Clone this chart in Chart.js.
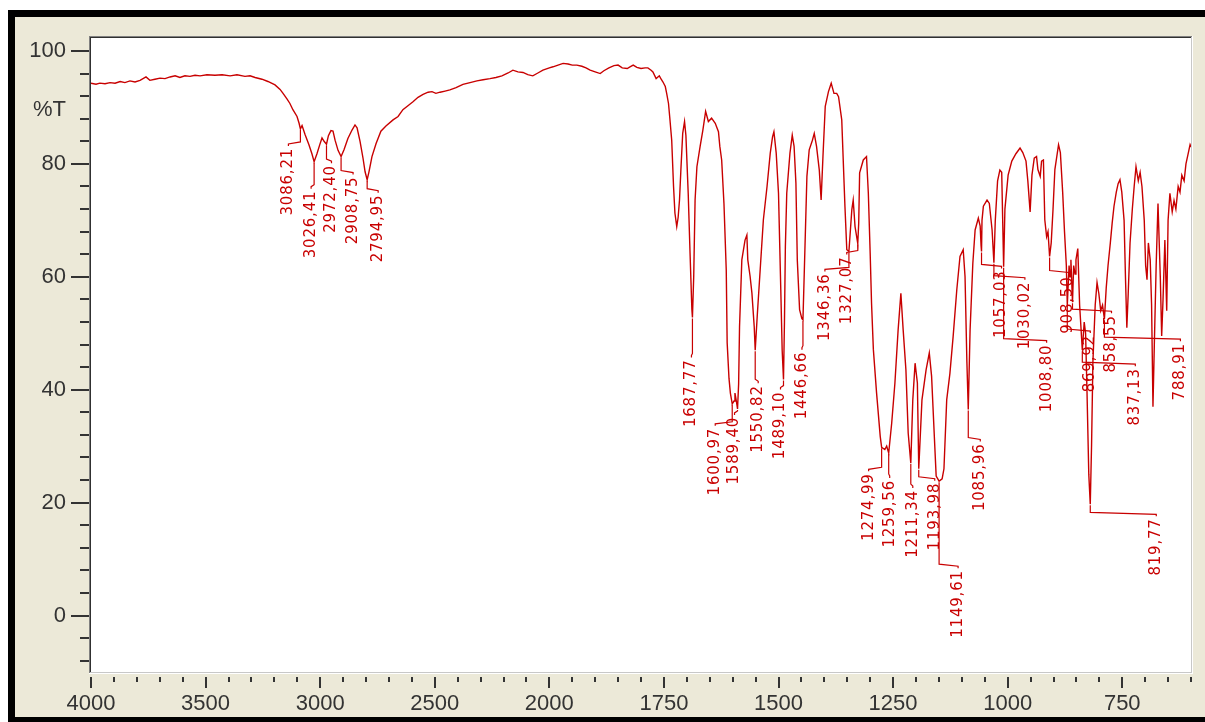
<!DOCTYPE html>
<html>
<head>
<meta charset="utf-8">
<title>IR spectrum</title>
<script src="https://cdn.jsdelivr.net/npm/chart.js@4.4.1/dist/chart.umd.min.js"></script>
<style>
  html, body { margin: 0; padding: 0; background: #ffffff; }
  canvas { display: block; }
</style>
</head>
<body>
<canvas id="spectrum" width="1205" height="722"></canvas>
<script>
// Spectrum: wavenumber (cm-1) and transmittance (%T)
const wavenumbers = [
  4000, 3978, 3961, 3939, 3917, 3895, 3873, 3852, 3830, 3808, 3786, 3760, 3743, 3721, 3699, 3677,
  3655, 3633, 3612, 3590, 3568, 3546, 3524, 3494, 3459, 3428, 3393, 3363, 3328, 3306, 3284, 3254,
  3228, 3197, 3175, 3162, 3145, 3132, 3119, 3101, 3092, 3086.21, 3079, 3066, 3049, 3036, 3026.41,
  3014, 3001, 2992, 2983, 2972.40, 2964, 2953, 2944, 2935, 2922, 2908.75, 2896, 2879, 2861, 2848,
  2839, 2826, 2813, 2804, 2794.95, 2787, 2774, 2756, 2735, 2713, 2682, 2660, 2639, 2617, 2595, 2573,
  2551, 2529, 2512, 2495, 2477, 2455, 2434, 2407, 2377, 2346, 2316, 2289, 2259, 2233, 2207, 2180,
  2159, 2137, 2115, 2094, 2072, 2050, 2028, 2000,
  1992, 1981, 1970, 1959, 1950, 1940, 1929, 1920, 1911, 1900, 1889, 1881, 1870, 1859, 1850, 1841,
  1830, 1824, 1817, 1809, 1800, 1791, 1785, 1778, 1774, 1767, 1760, 1756, 1752, 1747, 1744, 1740,
  1737, 1733, 1729, 1726, 1722, 1719, 1716, 1713, 1709, 1705, 1702, 1697, 1693, 1689, 1687.77, 1685,
  1682, 1678, 1671, 1665, 1659, 1653, 1646, 1638, 1631, 1628, 1624, 1619, 1614, 1612, 1608, 1605,
  1600.97, 1597, 1595, 1592, 1589.40, 1587, 1585, 1580, 1573, 1569, 1567, 1562, 1558, 1553, 1550.82,
  1546, 1540, 1533, 1525, 1518, 1513, 1510, 1505, 1500, 1495, 1492, 1489.10, 1487, 1485, 1482, 1475,
  1470, 1466, 1462, 1459, 1454, 1449, 1446.66, 1444, 1438, 1433, 1426, 1422, 1417, 1411, 1407, 1403,
  1398, 1391, 1385, 1379, 1373, 1369, 1362, 1355, 1351, 1346.36, 1340, 1337, 1333, 1327.07, 1325,
  1323, 1315, 1308, 1304, 1300, 1297, 1293, 1286, 1278, 1274.99, 1268, 1264, 1259.56, 1253, 1246,
  1239, 1233, 1228, 1222, 1217, 1211.34, 1207, 1202, 1197, 1193.98, 1187, 1178, 1171, 1166, 1160,
  1156, 1149.61, 1143, 1139, 1133, 1126, 1119, 1111, 1104, 1097, 1093, 1089, 1085.96, 1082, 1076,
  1071, 1064, 1060, 1058, 1057.03, 1056, 1053, 1045, 1040, 1034, 1030.02, 1027, 1022, 1017, 1013,
  1008.80, 1006, 999, 991, 982, 973, 967, 960, 956, 951, 947, 942, 937, 934, 929, 926, 922, 919,
  915, 912, 908.50, 905, 901, 897, 889, 885, 880, 876, 872, 869.92, 866, 864, 862, 858.55, 856, 853,
  851, 847, 843, 837.13, 833, 830, 827, 823, 819.77, 817, 814, 809, 805, 801, 797, 793, 788.91, 785,
  781, 776, 772, 768, 763, 759, 755, 751, 746, 743, 740, 737, 733, 728, 724, 720, 715, 711, 707, 702,
  699, 696, 693, 689, 686, 683, 680, 676, 672, 667, 664, 661, 657, 653, 650, 646, 641, 637, 633, 628,
  624, 620, 615, 611, 607, 602, 600
];
const transmittance = [
  94.3, 94.1, 94.3, 94.2, 94.4, 94.3, 94.6, 94.4, 94.7, 94.5, 94.8, 95.4, 94.8, 95.0, 95.2, 95.1,
  95.4, 95.6, 95.3, 95.6, 95.5, 95.7, 95.6, 95.8, 95.7, 95.8, 95.6, 95.8, 95.5, 95.6, 95.3, 95.0,
  94.6, 94.0, 93.2, 92.5, 91.5, 90.7, 89.6, 88.4, 87.2, 86.2, 86.8, 85.2, 83.4, 81.8, 80.4,
  81.8, 83.5, 84.6, 84.0, 83.5, 85.0, 85.9, 85.8, 84.2, 82.4, 81.3, 82.5, 84.5, 86.0, 86.9,
  86.4, 84.0, 81.0, 78.6, 77.2, 78.6, 81.3, 83.6, 85.8, 86.7, 87.8, 88.4, 89.6, 90.3, 91.0, 91.8,
  92.3, 92.7, 92.8, 92.5, 92.7, 92.9, 93.1, 93.5, 94.1, 94.4, 94.7, 94.9, 95.1, 95.3, 95.6, 96.1,
  96.6, 96.3, 96.2, 95.8, 95.6, 96.1, 96.6, 97.0,
  97.2, 97.5, 97.8, 97.7, 97.5, 97.5, 97.3, 97.0, 96.6, 96.3, 96.0, 96.5, 97.0, 97.4, 97.5, 97.0,
  96.9, 97.2, 97.5, 97.1, 96.9, 97.0, 97.0, 96.6, 96.3, 95.1, 95.6, 95.0, 94.5, 93.7, 92.5, 90.7,
  88.0, 84.2, 76.0, 71.3, 68.9, 70.5, 73.6, 78.9, 85.4, 87.5, 85.0, 74.8, 64.2, 54.2, 52.8, 60.0,
  73.6, 79.5, 83.1, 86.0, 89.3, 87.5, 88.1, 87.2, 85.7, 83.1, 80.7, 73.0, 61.2, 48.3, 42.0, 39.4,
  37.5, 38.0, 39.4, 38.0, 36.6, 41.0, 51.2, 63.0, 66.5, 67.4, 63.0, 60.1, 57.1, 51.2, 47.0,
  53.6, 61.2, 70.1, 76.0, 81.9, 84.8, 85.7, 81.9, 74.8, 57.7, 47.0, 41.8, 52.0, 65.4, 74.8, 81.9,
  85.1, 83.1, 76.6, 63.0, 54.2, 52.6, 52.4, 60.1, 77.8, 82.5, 84.2, 85.4, 83.1, 78.9, 73.6, 81.3,
  90.2, 92.8, 94.3, 92.5, 92.5, 91.9, 87.8, 72.4, 64.8, 64.5, 71.9, 73.6, 68.9, 65.9, 69.5,
  78.4, 80.7, 81.3, 74.8, 64.2, 55.3, 47.1, 39.4, 31.7, 29.8, 29.4, 30.0, 28.8, 34.1, 41.2,
  50.6, 57.1, 50.6, 43.5, 32.3, 27.0, 38.2, 44.7, 41.2, 26.0, 38.2, 43.5, 46.5, 42.4, 31.7,
  24.7, 23.8, 24.2, 26.0, 38.2, 42.9, 49.4, 57.7, 63.6, 64.8, 60.0, 45.0, 36.5, 50.6, 62.4,
  68.3, 70.4, 69.0, 65.5, 64.5, 70.0, 72.5, 73.6, 73.0, 68.3, 62.5, 70.0, 77.0, 78.9, 78.5,
  61.8, 72.0, 78.0, 80.5, 81.8, 82.8, 82.0, 80.5, 77.0, 71.5, 78.0, 81.0, 81.3, 79.0, 77.8, 80.5, 80.7, 70.1,
  67.1, 68.0, 63.6, 66.0, 72.0, 79.0, 83.4, 82.0, 75.0, 68.0, 62.0, 55.0, 62.0, 60.0, 63.0, 55.5, 62.0, 60.5,
  63.0, 65.0, 55.0, 47.0, 52.0, 50.0, 40.0, 25.0, 19.7, 30.0, 45.0, 55.0, 59.0, 57.0, 54.0, 55.0, 52.5, 58.0,
  62.0, 66.0, 69.5, 72.5, 75.0, 76.5, 77.2, 75.0, 70.0, 60.0, 51.0, 57.0, 66.0, 72.0, 76.0, 79.5, 77.0, 78.5, 76.0, 70.0,
  62.0, 59.5, 66.0, 63.0, 55.0, 37.0, 48.0, 62.0, 73.0, 60.0, 49.5, 56.0, 66.5, 54.0, 70.0, 74.8, 71.5, 73.5, 72.0, 76.0,
  75.0, 78.0, 77.0, 80.0, 81.5, 83.4, 83.0
];

// Annotated band positions (cm-1); label text is the wavenumber itself
const peakWavenumbers = [
  3086.21, 3026.41, 2972.40, 2908.75, 2794.95,
  1687.77, 1600.97, 1589.40, 1550.82, 1489.10, 1446.66, 1346.36, 1327.07,
  1274.99, 1259.56, 1211.34, 1193.98, 1149.61, 1085.96, 1057.03, 1030.02, 1008.80,
  908.50, 869.92, 858.55, 837.13, 819.77, 788.91
];

// Axis tick labels
const xTickLabels = [4000, 3500, 3000, 2500, 2000, 1750, 1500, 1250, 1000, 750];
const yTickLabels = [0, 20, 40, 60, 80, 100];
const yAxisTitle = '%T';

// Label placement: [dx, dy] in pixels from the band minimum to the top end of its label
const peakLabelOffsets = [
  [-12, 19], [-3, 29], [5, 21], [12, 20], [11, 15],
  [-1, 42], [-17, 24], [-3, 8], [3, 35], [-3, 12], [-1, 32], [-24, 22], [-11, 13],
  [-13, 26], [1, 27], [2, 27], [16, 14], [19, 89], [12, 34], [20, 19], [31, 19], [43, 78],
  [19, 20], [23, 30], [39, 13], [53, 18], [66, 14], [76, 24]
];

const LINE_RED = '#c80000';
const AXIS_INK = '#333333';
const PANEL = '#ece9d8';

// Wavenumber axis: 4000-2000 cm-1 drawn at half the scale of 2000-600 cm-1
class WavenumberScale extends Chart.LinearScale {
  _span(value) {
    const split = 2000;
    return value >= split ? (this.max - value) / 2 : (this.max - split) / 2 + (split - value);
  }
  getPixelForValue(value) {
    if (value === null || value === undefined) return NaN;
    const total = this._span(this.min);
    return this.left + (this._span(value) / total) * this.width;
  }
  getValueForPixel(pixel) {
    const split = 2000;
    const total = this._span(this.min);
    const s = ((pixel - this.left) / this.width) * total;
    const half = (this.max - split) / 2;
    return s <= half ? this.max - 2 * s : split - (s - half);
  }
}
WavenumberScale.id = 'wavenumber';
WavenumberScale.defaults = Chart.LinearScale.defaults;
Chart.register(WavenumberScale);

const spectrumPoints = wavenumbers.map((w, i) => ({ x: w, y: transmittance[i] }));

// Window frame, panel and plot background
const framePlugin = {
  id: 'frame',
  beforeDraw(chart) {
    const { ctx, width, height, chartArea: a } = chart;
    ctx.save();
    ctx.fillStyle = '#ffffff';
    ctx.fillRect(0, 0, width, height);
    ctx.fillStyle = '#000000';
    ctx.fillRect(8, 10, width - 8, height - 10);
    ctx.fillStyle = PANEL;
    ctx.fillRect(15, 17, width - 15, 717 - 17);
    ctx.fillStyle = '#ffffff';
    ctx.fillRect(a.left, a.top, a.right - a.left, a.bottom - a.top);
    ctx.restore();
  },
  afterDatasetsDraw(chart) {
    const { ctx, chartArea: a } = chart;
    ctx.save();
    // sunken border: dark top/left, light bottom/right
    ctx.fillStyle = '#808080';
    ctx.fillRect(a.left - 2, a.top - 2, a.right - a.left + 3, 1);
    ctx.fillRect(a.left - 2, a.top - 2, 1, a.bottom - a.top + 3);
    ctx.fillStyle = '#303030';
    ctx.fillRect(a.left - 1, a.top - 1, a.right - a.left + 1, 1);
    ctx.fillRect(a.left - 1, a.top - 1, 1, a.bottom - a.top + 1);
    ctx.fillStyle = '#c8c8c8';
    ctx.fillRect(a.left - 1, a.bottom, a.right - a.left + 2, 1);
    ctx.fillRect(a.right, a.top - 1, 1, a.bottom - a.top + 2);
    ctx.fillStyle = '#ffffff';
    ctx.fillRect(a.left - 2, a.bottom + 1, a.right - a.left + 4, 1);
    ctx.fillRect(a.right + 1, a.top - 2, 1, a.bottom - a.top + 4);
    ctx.restore();
  }
};

// Major and minor tick marks outside the plot
const tickMarkPlugin = {
  id: 'tickMarks',
  afterDraw(chart) {
    const { ctx, chartArea: a } = chart;
    const xs = chart.scales.x, ys = chart.scales.y;
    ctx.save();
    ctx.fillStyle = AXIS_INK;
    // y axis: majors every 20, minors every 4
    for (let v = -8; v <= 100; v += 4) {
      const y = Math.round(ys.getPixelForValue(v));
      const major = v % 20 === 0;
      const len = major ? 18 : 9;
      ctx.fillRect(a.left - 2 - len, y - 1, len, 2);
    }
    // x axis: majors at labels; minors every 100 above 2000, every 50 below
    const majors = new Set(xTickLabels);
    for (let v = 4000; v >= 600; v -= (v > 2000 ? 100 : 50)) {
      const x = Math.round(xs.getPixelForValue(v));
      const len = majors.has(v) ? 11 : 5;
      ctx.fillRect(x - 1, a.bottom + 5, 2, len);
    }
    ctx.restore();
  }
};

// Band labels with leader lines
const peakLabelPlugin = {
  id: 'peakLabels',
  afterDatasetsDraw(chart) {
    const { ctx, chartArea: a } = chart;
    const xs = chart.scales.x, ys = chart.scales.y;
    ctx.save();
    ctx.beginPath();
    ctx.rect(a.left, a.top, a.right - a.left, a.bottom - a.top);
    ctx.clip();
    ctx.strokeStyle = LINE_RED;
    ctx.fillStyle = LINE_RED;
    ctx.lineWidth = 1.2;
    ctx.font = '15px "DejaVu Sans"';
    ctx.letterSpacing = '0.8px';
    ctx.textAlign = 'right';
    ctx.textBaseline = 'middle';
    peakWavenumbers.forEach((w, i) => {
      const idx = wavenumbers.indexOf(w);
      const px = xs.getPixelForValue(w);
      const py = ys.getPixelForValue(transmittance[idx]);
      const [dx, dy] = peakLabelOffsets[i];
      const lx = px + dx, ly = py + dy;
      const elbow = Math.max(ly - 6, py + 2);
      ctx.beginPath();
      ctx.moveTo(px, py + 1);
      ctx.lineTo(px, elbow);
      ctx.lineTo(lx, elbow + 2);
      ctx.lineTo(lx, ly - 2);
      ctx.stroke();
      ctx.save();
      ctx.translate(lx, ly);
      ctx.rotate(-Math.PI / 2);
      ctx.fillText(w.toFixed(2).replace('.', ','), 0, 0);
      ctx.restore();
    });
    ctx.restore();
  }
};

new Chart(document.getElementById('spectrum'), {
  type: 'line',
  data: {
    datasets: [{
      data: spectrumPoints,
      borderColor: LINE_RED,
      borderWidth: 1.4,
      pointRadius: 0,
      tension: 0,
      fill: false
    }]
  },
  options: {
    responsive: false,
    animation: false,
    events: [],
    layout: { padding: { top: 38, right: 14, bottom: 0, left: 0 } },
    plugins: { legend: { display: false }, tooltip: { enabled: false } },
    scales: {
      x: {
        type: 'wavenumber',
        min: 600,
        max: 4000,
        grid: { display: false },
        border: { display: false },
        afterBuildTicks(scale) { scale.ticks = xTickLabels.map(v => ({ value: v })); },
        afterFit(scale) { scale.height = 50; },
        ticks: {
          autoSkip: false,
          maxRotation: 0,
          padding: 11,
          color: AXIS_INK,
          font: { family: '"Liberation Sans", Arial, sans-serif', size: 22 },
          callback: v => String(v)
        }
      },
      y: {
        type: 'linear',
        min: -10,
        max: 102.3,
        grid: { display: false },
        border: { display: false },
        afterBuildTicks(scale) {
          scale.ticks = yTickLabels.map(v => ({ value: v })).concat([{ value: 89.5 }]);
        },
        afterFit(scale) { scale.width = 91; },
        ticks: {
          autoSkip: false,
          padding: 17,
          color: AXIS_INK,
          font: { family: '"Liberation Sans", Arial, sans-serif', size: 22 },
          callback: v => (v === 89.5 ? yAxisTitle : String(v))
        }
      }
    }
  },
  plugins: [framePlugin, tickMarkPlugin, peakLabelPlugin]
});
</script>
</body>
</html>
